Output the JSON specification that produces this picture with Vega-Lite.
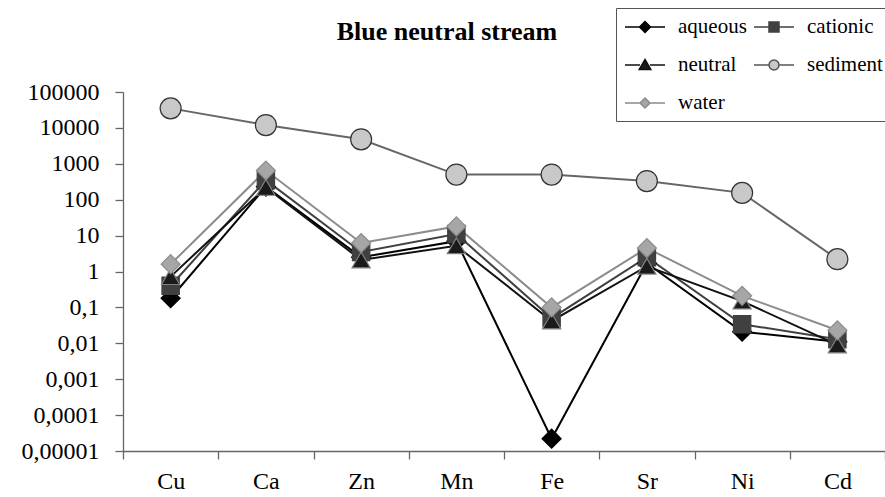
{
  "$schema": "https://vega.github.io/schema/vega-lite/v6.json",
  "autosize": "none",
  "width": 762,
  "height": 359,
  "padding": {"left": 123, "top": 92, "right": 0, "bottom": 46},
  "background": "white",
  "title": {
    "text": "Blue neutral stream",
    "font": "Times New Roman, Liberation Serif, serif",
    "fontSize": 26,
    "fontWeight": "bold",
    "color": "black",
    "anchor": "middle",
    "frame": "group",
    "baseline": "alphabetic",
    "offset": -58,
    "dx": -57
  },
  "config": {
    "view": {"stroke": null},
    "axis": {
      "labelFont": "Times New Roman, Liberation Serif, serif",
      "labelFontSize": 24,
      "labelColor": "black",
      "domainColor": "#666666",
      "tickColor": "#666666",
      "domainWidth": 1.3,
      "tickWidth": 1.3,
      "tickSize": 8,
      "grid": false,
      "title": null
    },
    "legend": {
      "labelFont": "Times New Roman, Liberation Serif, serif",
      "labelFontSize": 21,
      "labelColor": "black"
    }
  },
  "data": {
    "values": [
      {"el": "Cu", "series": "aqueous", "v": 0.18},
      {"el": "Ca", "series": "aqueous", "v": 230},
      {"el": "Zn", "series": "aqueous", "v": 2.5},
      {"el": "Mn", "series": "aqueous", "v": 7},
      {"el": "Fe", "series": "aqueous", "v": 0.000022},
      {"el": "Sr", "series": "aqueous", "v": 1.7},
      {"el": "Ni", "series": "aqueous", "v": 0.021},
      {"el": "Cd", "series": "aqueous", "v": 0.011},
      {"el": "Cu", "series": "cationic", "v": 0.4},
      {"el": "Ca", "series": "cationic", "v": 350},
      {"el": "Zn", "series": "cationic", "v": 3.5},
      {"el": "Mn", "series": "cationic", "v": 11},
      {"el": "Fe", "series": "cationic", "v": 0.05},
      {"el": "Sr", "series": "cationic", "v": 2.5},
      {"el": "Ni", "series": "cationic", "v": 0.034},
      {"el": "Cd", "series": "cationic", "v": 0.013},
      {"el": "Cu", "series": "neutral", "v": 0.72},
      {"el": "Ca", "series": "neutral", "v": 220},
      {"el": "Zn", "series": "neutral", "v": 2.1},
      {"el": "Mn", "series": "neutral", "v": 5.2},
      {"el": "Fe", "series": "neutral", "v": 0.042},
      {"el": "Sr", "series": "neutral", "v": 1.4},
      {"el": "Ni", "series": "neutral", "v": 0.15},
      {"el": "Cd", "series": "neutral", "v": 0.009},
      {"el": "Cu", "series": "sediment", "v": 35000},
      {"el": "Ca", "series": "sediment", "v": 12000},
      {"el": "Zn", "series": "sediment", "v": 4800},
      {"el": "Mn", "series": "sediment", "v": 500},
      {"el": "Fe", "series": "sediment", "v": 500},
      {"el": "Sr", "series": "sediment", "v": 330},
      {"el": "Ni", "series": "sediment", "v": 155},
      {"el": "Cd", "series": "sediment", "v": 2.2},
      {"el": "Cu", "series": "water", "v": 1.6},
      {"el": "Ca", "series": "water", "v": 650},
      {"el": "Zn", "series": "water", "v": 6.2},
      {"el": "Mn", "series": "water", "v": 18},
      {"el": "Fe", "series": "water", "v": 0.1},
      {"el": "Sr", "series": "water", "v": 4.5},
      {"el": "Ni", "series": "water", "v": 0.21},
      {"el": "Cd", "series": "water", "v": 0.023}
    ]
  },
  "encoding": {
    "x": {
      "field": "el",
      "type": "nominal",
      "sort": null,
      "scale": {"type": "band", "paddingInner": 0, "paddingOuter": 0},
      "axis": {"labelAngle": 0, "tickBand": "extent", "labelPadding": 10}
    },
    "y": {
      "field": "v",
      "type": "quantitative",
      "scale": {"type": "log", "domain": [0.00001, 100000], "nice": false},
      "axis": {
        "values": [0.00001, 0.0001, 0.001, 0.01, 0.1, 1, 10, 100, 1000, 10000, 100000],
        "labelExpr": "replace(format(datum.value, '.5~f'), '.', ',')",
        "labelPadding": 16
      }
    }
  },
  "layer": [
    {
      "mark": {"type": "line", "stroke": "white", "strokeWidth": 5.5},
      "encoding": {"detail": {"field": "series", "type": "nominal"}}
    },
    {
      "mark": {"type": "line", "strokeWidth": 2},
      "encoding": {
        "stroke": {
          "field": "series",
          "type": "nominal",
          "scale": {
            "domain": ["aqueous", "cationic", "neutral", "sediment", "water"],
            "range": ["#000000", "#404040", "#111111", "#666666", "#8c8c8c"]
          },
          "legend": null
        }
      }
    },
    {
      "mark": {"type": "point", "filled": true, "strokeWidth": 1.2, "opacity": 1},
      "encoding": {
        "shape": {
          "field": "series",
          "type": "nominal",
          "scale": {
            "domain": ["aqueous", "cationic", "neutral", "sediment", "water"],
            "range": ["diamond", "square", "triangle-up", "circle", "diamond"]
          },
          "legend": null
        },
        "fill": {
          "field": "series",
          "type": "nominal",
          "scale": {
            "domain": ["aqueous", "cationic", "neutral", "sediment", "water"],
            "range": ["#000000", "#404040", "#1a1a1a", "#c8c8c8", "#a6a6a6"]
          },
          "legend": null
        },
        "stroke": {
          "field": "series",
          "type": "nominal",
          "scale": {
            "domain": ["aqueous", "cationic", "neutral", "sediment", "water"],
            "range": ["#000000", "#404040", "#808080", "#333333", "#8c8c8c"]
          },
          "legend": null
        },
        "size": {
          "field": "series",
          "type": "nominal",
          "scale": {
            "type": "ordinal",
            "domain": ["aqueous", "cationic", "neutral", "sediment", "water"],
            "range": [360, 300, 330, 440, 360]
          },
          "legend": null
        }
      }
    },
    {
      "transform": [{"filter": {"field": "series", "equal": "none"}}],
      "mark": {"type": "point", "filled": true, "strokeWidth": 1.5, "opacity": 1},
      "encoding": {
        "shape": {
          "field": "series",
          "type": "nominal",
          "scale": {
            "domain": ["aqueous", "neutral", "water", "cationic", "sediment"],
            "range": [
              "M-2,0L-0.55,0M0.55,0L2,0M0,-0.55L0.55,0L0,0.55L-0.55,0Z",
              "M-2,0L-0.5,0M0.5,0L2,0M0,-0.55L0.58,0.45L-0.58,0.45Z",
              "M-2,0L-0.5,0M0.5,0L2,0M0,-0.5L0.5,0L0,0.5L-0.5,0Z",
              "M-2,0L-0.5,0M0.5,0L2,0M-0.5,-0.5L0.5,-0.5L0.5,0.5L-0.5,0.5Z",
              "M-2,0L-0.5,0M0.5,0L2,0M-0.5,0A0.5,0.5 0 1,1 0.5,0A0.5,0.5 0 1,1 -0.5,0Z"
            ]
          },
          "legend": {
            "orient": "none",
            "legendX": 493,
            "legendY": -84,
            "title": null,
            "columns": 2,
            "columnPadding": 4,
            "rowPadding": 17,
            "padding": 8,
            "symbolSize": 400,
            "symbolOffset": 10,
            "symbolStrokeWidth": 1.5,
            "labelOffset": 22,
            "labelFont": "Times New Roman, Liberation Serif, serif",
            "labelFontSize": 21,
            "labelColor": "black",
            "strokeColor": "#555555",
            "fillColor": "white"
          }
        },
        "fill": {
          "field": "series",
          "type": "nominal",
          "scale": {
            "domain": ["aqueous", "neutral", "water", "cationic", "sediment"],
            "range": ["#000000", "#1a1a1a", "#a6a6a6", "#404040", "#c8c8c8"]
          },
          "legend": {
            "orient": "none",
            "legendX": 493,
            "legendY": -84,
            "title": null,
            "columns": 2,
            "columnPadding": 4,
            "rowPadding": 17,
            "padding": 8,
            "symbolSize": 400,
            "symbolOffset": 10,
            "symbolStrokeWidth": 1.5,
            "labelOffset": 22,
            "labelFont": "Times New Roman, Liberation Serif, serif",
            "labelFontSize": 21,
            "labelColor": "black",
            "strokeColor": "#555555",
            "fillColor": "white"
          }
        },
        "stroke": {
          "field": "series",
          "type": "nominal",
          "scale": {
            "domain": ["aqueous", "neutral", "water", "cationic", "sediment"],
            "range": ["#000000", "#111111", "#8c8c8c", "#404040", "#555555"]
          },
          "legend": {
            "orient": "none",
            "legendX": 493,
            "legendY": -84,
            "title": null,
            "columns": 2,
            "columnPadding": 4,
            "rowPadding": 17,
            "padding": 8,
            "symbolSize": 400,
            "symbolOffset": 10,
            "symbolStrokeWidth": 1.5,
            "labelOffset": 22,
            "labelFont": "Times New Roman, Liberation Serif, serif",
            "labelFontSize": 21,
            "labelColor": "black",
            "strokeColor": "#555555",
            "fillColor": "white"
          }
        }
      }
    }
  ],
  "resolve": {
    "scale": {"stroke": "independent", "fill": "independent", "shape": "independent", "size": "independent"},
    "legend": {"stroke": "independent", "fill": "independent", "shape": "independent", "size": "independent"}
  }
}
